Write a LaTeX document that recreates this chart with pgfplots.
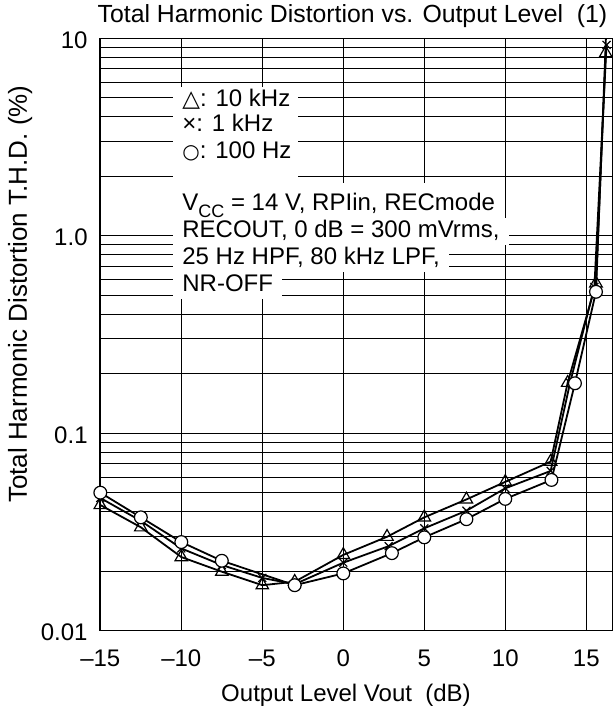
\documentclass[border=0pt]{standalone}
\usepackage{fontspec}
\setmainfont{Liberation Sans}
\newfontfamily\sym{DejaVu Sans}
\usepackage{pgfplots}
\pgfplotsset{compat=1.18}

\begin{document}
\fontsize{12}{14}\selectfont
\begin{tikzpicture}[font=\fontsize{12}{14}\selectfont]
\begin{axis}[
  name=ax,
  scale only axis,
  width=256.5pt, height=296.25pt,
  xmin=-15.02, xmax=16.65,
  ymode=log, ymin=0.01, ymax=10,
  xtick={-15,-10,-5,0,5,10,15},
  xticklabels={--15,--10,--5,0,5,10,15},
  ytick={0.01,0.1,1,10},
  yticklabels={0.01,0.1,1.0,10},
  minor ytick={0.02,0.03,0.04,0.05,0.06,0.07,0.08,0.09,0.2,0.3,0.4,0.5,0.6,0.7,0.8,0.9,2,3,4,5,6,7,8,9},
  xmajorgrids, ymajorgrids, yminorgrids,
  grid style={black, line width=0.5pt},
  major grid style={black, line width=0.5pt},
  minor grid style={black, line width=0.5pt},
  major tick length=0pt, minor tick length=0pt,
  axis line style={black, line width=0.7pt},
  xticklabel style={anchor=base, yshift=-17.8pt, inner sep=0pt},
  yticklabel style={anchor=east, xshift=-6pt, yshift=-1pt, inner sep=0pt},
  every axis title shift=0pt,
  title={Total Harmonic Distortion vs. Output Level\ \ (1)},
  title style={at={(axis description cs:0.4922,1.0257)}, anchor=base, inner sep=0pt, font=\fontsize{12.4}{14}\selectfont},
  xlabel={Output Level Vout\ \ (dB)},
  xlabel style={at={(axis description cs:0.4795,-0.1203)}, anchor=base, inner sep=0pt},
  ylabel={Total Harmonic Distortion T.H.D. (\%)},
  ylabel style={at={(axis description cs:-0.1423,0.568)}, anchor=base, inner sep=0pt, font=\fontsize{13}{15}\selectfont},
]
% white backgrounds of the annotation block
\fill[white] (rel axis cs:0.1423,0.9176) rectangle (rel axis cs:0.3860,0.7556);
\node[anchor=base west, inner sep=0pt] at (rel axis cs:0.1598,0.8855) {{\sym\fontsize{11.5}{11}\selectfont △}: 10 kHz};
\node[anchor=base west, inner sep=0pt] at (rel axis cs:0.1598,0.8421) {×: 1 kHz};
\node[anchor=base west, inner sep=0pt] at (rel axis cs:0.1598,0.7972) {{\sym\fontsize{10}{10}\selectfont ○}: 100 Hz};

\node[anchor=base west, fill=white, inner xsep=4.5pt, inner ysep=0pt, text height=13.5pt, text depth=4pt]
  at (rel axis cs:0.1423,0.7100) {V\raisebox{-3.5pt}{\fontsize{9}{9}\selectfont CC} = 14 V, RPIin, RECmode};
\node[anchor=base west, fill=white, inner xsep=4.5pt, inner ysep=0pt, text height=9.5pt, text depth=4pt]
  at (rel axis cs:0.1423,0.6640) {RECOUT, 0 dB = 300 mVrms,};
\node[anchor=base west, fill=white, inner xsep=4.5pt, inner ysep=0pt, text height=9.5pt, text depth=4pt]
  at (rel axis cs:0.1423,0.6184) {25 Hz HPF, 80 kHz LPF,};
\node[anchor=base west, fill=white, inner xsep=4.5pt, inner ysep=0pt, text height=9.5pt, text depth=4pt]
  at (rel axis cs:0.1423,0.5733) {NR-OFF};

% 10 kHz (triangles)
\addplot[black, line width=0.9pt, mark=triangle, mark size=3.6pt, mark options={fill=white, line width=0.6pt}]
coordinates {(-15,0.0433) (-12.5,0.0334) (-10,0.0236) (-7.5,0.0199) (-5,0.0170) (-3,0.0177) (0,0.0242)
 (2.7,0.0299) (5,0.0375) (7.6,0.0462) (10,0.0567) (12.8,0.0718) (13.85,0.180) (15.6,0.574) (16.2,8.4)};
% 1 kHz (crosses)
\addplot[black, line width=0.9pt, mark=x, mark size=2.8pt, mark options={line width=0.6pt}]
coordinates {(-15,0.047) (-12.5,0.036) (-10,0.0261) (-7.5,0.0215) (-5,0.0185) (-3,0.0172) (0,0.0221)
 (2.8,0.0268) (5,0.033) (7.6,0.0405) (10,0.0526) (12.8,0.0644) (14,0.18) (15.5,0.55) (16.25,9.25)};
% 100 Hz (circles)
\addplot[black, line width=0.9pt, mark=*, mark size=3.2pt, mark options={fill=white, line width=0.6pt}]
coordinates {(-15,0.050) (-12.5,0.0375) (-10,0.0281) (-7.5,0.0226) (-3,0.0170) (0,0.0195)
 (3,0.0247) (5,0.0297) (7.6,0.0367) (10,0.0465) (12.85,0.058) (14.3,0.179) (15.6,0.52) (16.25,12)};
\end{axis}
\pgfresetboundingbox
\useasboundingbox ([shift={(-50pt,-39.65pt)}]ax.south west) rectangle ([shift={(0pt,19.1pt)}]ax.north east);
\end{tikzpicture}
\end{document}
